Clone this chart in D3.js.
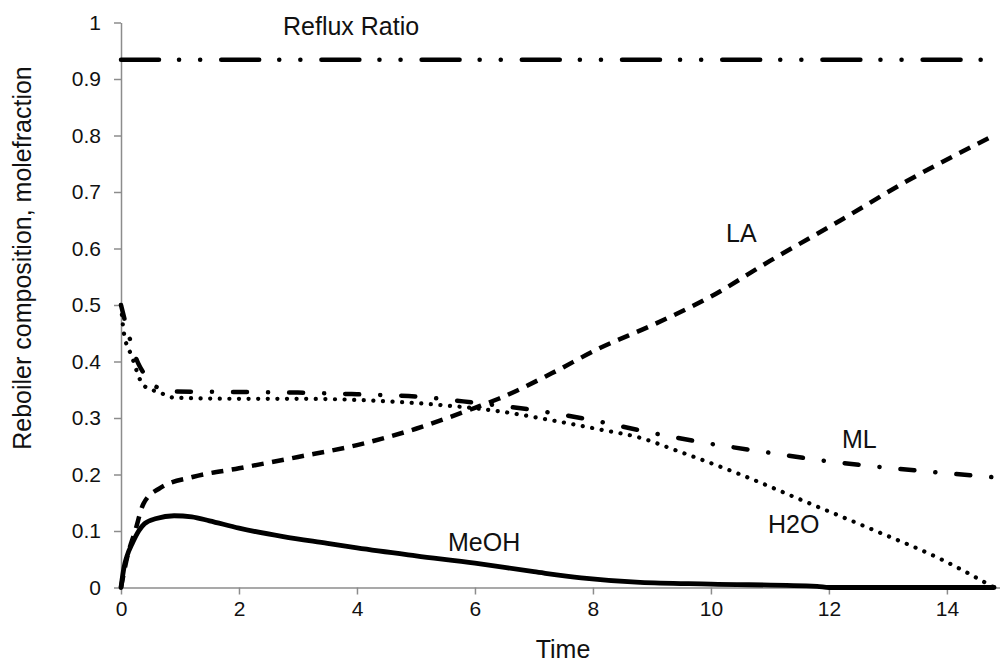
<!DOCTYPE html>
<html>
<head>
<meta charset="utf-8">
<script src="https://cdn.jsdelivr.net/npm/d3@7"></script>
<style>
  body { margin: 0; background: #fff; }
  svg { display: block; font-family: "Liberation Sans", Arial, sans-serif; }
</style>
</head>
<body>
<svg id="chart"></svg>
<script>
// data (time, mole fraction)
const refluxT = [0, 14.8]
const refluxV = [0.934, 0.934]

const meohT = [0, 0.05, 0.1, 0.2, 0.3, 0.4, 0.6, 0.9, 1.2, 1.5, 2, 2.75, 3.5, 4, 5, 6, 7, 7.8, 8.8, 10, 11.8, 12, 14.8]
const meohV = [0, 0.035, 0.055, 0.08, 0.1, 0.113, 0.122, 0.127, 0.125, 0.118, 0.105, 0.09, 0.078, 0.07, 0.056, 0.043, 0.028, 0.017, 0.009, 0.006, 0.002, 0, 0]

const laT = [0, 0.12, 0.24, 0.38, 0.66, 1.23, 2, 3, 4, 5, 6, 6.4, 7.3, 8.1, 9, 10, 11, 12.2, 13.3, 14.8]
const laV = [0, 0.06, 0.1, 0.148, 0.176, 0.196, 0.211, 0.231, 0.252, 0.281, 0.318, 0.334, 0.379, 0.423, 0.464, 0.515, 0.578, 0.65, 0.718, 0.8]

const mlT = [0, 0.15, 0.29, 0.41, 0.6, 0.9, 2, 3, 4, 5, 6, 7, 8, 8.85, 9.9, 10.9, 11.8, 12.8, 13.7, 14.8]
const mlV = [0.5, 0.44, 0.397, 0.376, 0.355, 0.347, 0.346, 0.345, 0.342, 0.338, 0.327, 0.314, 0.296, 0.277, 0.256, 0.24, 0.226, 0.214, 0.205, 0.195]

const h2oT = [0, 0.05, 0.18, 0.38, 0.66, 0.9, 2, 3, 4, 5.3, 6.4, 7.3, 8.1, 8.8, 9.4, 10.5, 11.6, 12.75, 13.9, 14.8]
const h2oV = [0.5, 0.45, 0.41, 0.358, 0.345, 0.336, 0.334, 0.334, 0.332, 0.324, 0.312, 0.296, 0.28, 0.265, 0.243, 0.2, 0.152, 0.102, 0.05, 0]

const xTicks = [0, 2, 4, 6, 8, 10, 12, 14]
const yTicks = [0, 0.1, 0.2, 0.3, 0.4, 0.5, 0.6, 0.7, 0.8, 0.9, 1]

const width = 1000
const height = 664
const margin = { top: 22.5, right: 0, bottom: 76.5, left: 121 }

const svg = d3.select('#chart').attr('width', width).attr('height', height)

const x = d3.scaleLinear().domain([0, 14.9]).range([margin.left, width - margin.right])
const y = d3.scaleLinear().domain([0, 1]).range([height - margin.bottom, margin.top])

// axes
const xAxis = svg.append('g')
    .attr('transform', `translate(0,${y(0)})`)
    .call(d3.axisBottom(x).tickValues(xTicks).tickSize(7).tickSizeOuter(0).tickFormat(d3.format('d')))
const yAxis = svg.append('g')
    .attr('transform', `translate(${x(0)},0)`)
    .call(d3.axisLeft(y).tickValues(yTicks).tickSize(7).tickSizeOuter(0).tickFormat(d => d === 0 || d === 1 ? d3.format('d')(d) : d3.format('.1f')(d)))

for (const ax of [xAxis, yAxis]) {
    ax.select('.domain').attr('stroke', '#8c8c8c').attr('stroke-width', 1.5)
    ax.selectAll('.tick line').attr('stroke', '#8c8c8c').attr('stroke-width', 1.5)
    ax.selectAll('.tick text').attr('fill', '#111').style('font-size', '21px')
        .style('font-family', '"Liberation Sans", Arial, sans-serif')
}
xAxis.selectAll('.tick text').attr('y', 14)
yAxis.selectAll('.tick text').attr('x', -20)

// series
const series = [
    { t: refluxT, v: refluxV, width: 4.5, dash: '38,20,0.1,21,0.1,21', cap: 'round' },
    { t: meohT, v: meohV, width: 4.8, dash: null, cap: 'round' },
    { t: laT, v: laV, width: 4.5, dash: '12,8.5', cap: 'butt' },
    { t: mlT, v: mlV, width: 4.5, dash: '14,21,0.1,21', cap: 'round' },
    { t: h2oT, v: h2oV, width: 4.2, dash: '0.1,9.5', cap: 'round' }
]

const line = d3.line()
    .x(d => x(d[0]))
    .y(d => y(d[1]))
    .curve(d3.curveMonotoneX)

svg.append('g')
    .selectAll('path')
    .data(series)
    .join('path')
    .attr('d', d => line(d.t.map((t, i) => [t, d.v[i]])))
    .attr('fill', 'none')
    .attr('stroke', '#000')
    .attr('stroke-width', d => d.width)
    .attr('stroke-linecap', d => d.cap)
    .attr('stroke-linejoin', 'round')
    .attr('stroke-dasharray', d => d.dash)

// labels
const labels = [
    { text: 'Reflux Ratio', x: 283, y: 35 },
    { text: 'LA', x: 726, y: 242 },
    { text: 'ML', x: 842, y: 448 },
    { text: 'H2O', x: 768, y: 533 },
    { text: 'MeOH', x: 448, y: 551 }
]
svg.append('g')
    .selectAll('text')
    .data(labels)
    .join('text')
    .attr('x', d => d.x)
    .attr('y', d => d.y)
    .attr('fill', '#111')
    .style('font-size', '25px')
    .text(d => d.text)

svg.append('text')
    .attr('x', 563)
    .attr('y', 658)
    .attr('text-anchor', 'middle')
    .attr('fill', '#111')
    .style('font-size', '25px')
    .text('Time')

svg.append('text')
    .attr('transform', `translate(31,258) rotate(-90)`)
    .attr('text-anchor', 'middle')
    .attr('fill', '#111')
    .style('font-size', '25px')
    .text('Reboiler composition, molefraction')
</script>
</body>
</html>
